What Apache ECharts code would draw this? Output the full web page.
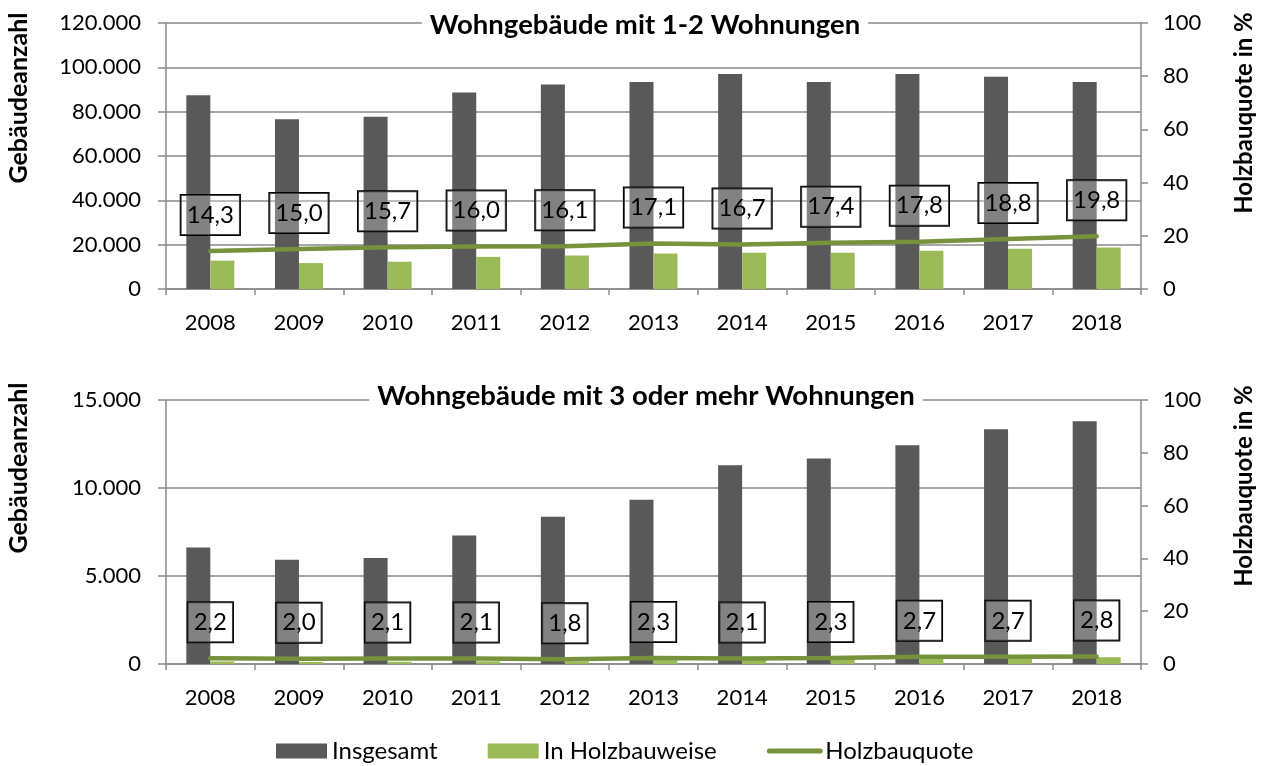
<!DOCTYPE html>
<html>
<head>
<meta charset="utf-8">
<script src="https://cdn.jsdelivr.net/npm/echarts@6/dist/echarts.min.js"></script>
<style>
html,body{margin:0;padding:0;background:#fff;}
#main{width:1264px;height:766px;}
</style>
</head>
<body>
<div id="main"></div>
<script>
const years = ['2008','2009','2010','2011','2012','2013','2014','2015','2016','2017','2018'];
const total1 = [87400, 76600, 77700, 88600, 92200, 93400, 97000, 93400, 97000, 95800, 93400];
const wood1 = [12800, 11700, 12300, 14500, 15100, 16000, 16400, 16400, 17300, 18200, 18700];
const quota1 = [14.3, 15.0, 15.7, 16.0, 16.1, 17.1, 16.7, 17.4, 17.8, 18.8, 19.8];
const total2 = [6620, 5920, 6020, 7300, 8360, 9330, 11290, 11670, 12430, 13340, 13790];
const wood2 = [146, 118, 126, 153, 150, 214, 237, 268, 336, 360, 386];
const quota2 = [2.2, 2.0, 2.1, 2.1, 1.8, 2.3, 2.1, 2.3, 2.7, 2.7, 2.8];
const title1 = 'Wohngebäude mit 1-2 Wohnungen';
const title2 = 'Wohngebäude mit 3 oder mehr Wohnungen';
const leftName = 'Gebäudeanzahl';
const rightName = 'Holzbauquote in %';
const names = ['Insgesamt', 'In Holzbauweise', 'Holzbauquote'];

const FONT = 'Lato';
const AX = '#8a8a8a';
const fmtDE = v => String(v).replace(/\B(?=(\d{3})+(?!\d))/g, '.');
const fmtDec = p => p.value.toFixed(1).replace('.', ',');

function xAxis(grid) {
  return {
    type: 'category', gridIndex: grid, data: years,
    axisLine: {lineStyle: {color: AX, width: 1.5}},
    axisTick: {show: true, length: 6, lineStyle: {color: AX, width: 1.5}},
    axisLabel: {color: '#000', fontFamily: FONT, fontSize: 22, margin: 23}
  };
}
function leftAxis(grid, max, interval) {
  return {
    type: 'value', gridIndex: grid, min: 0, max: max, interval: interval,
    axisLine: {show: true, lineStyle: {color: AX, width: 1.5}},
    axisTick: {show: true, length: 8, lineStyle: {color: AX, width: 1.5}},
    splitLine: {show: true, lineStyle: {color: AX, width: 1.5}},
    axisLabel: {color: '#000', fontFamily: FONT, fontSize: 22, margin: 25, formatter: fmtDE}
  };
}
function rightAxis(grid) {
  return {
    type: 'value', gridIndex: grid, position: 'right', min: 0, max: 100, interval: 20,
    axisLine: {show: true, lineStyle: {color: AX, width: 1.5}},
    axisTick: {show: true, length: 7, lineStyle: {color: AX, width: 1.5}},
    splitLine: {show: false},
    axisLabel: {color: '#000', fontFamily: FONT, fontSize: 22, margin: 22}
  };
}
function bars(name, data, xi, yi, color) {
  return {name: name, type: 'bar', xAxisIndex: xi, yAxisIndex: yi, data: data,
    barWidth: 24, barGap: '0%', itemStyle: {color: color}};
}
function line(data, xi, yi) {
  return {
    name: names[2], type: 'line', xAxisIndex: xi, yAxisIndex: yi, data: data,
    showSymbol: true, symbol: 'circle', symbolSize: 2, z: 5,
    lineStyle: {color: '#76923C', width: 4.5, cap: 'round'},
    itemStyle: {color: '#76923C'},
    label: {
      show: true, position: 'top', distance: 15, formatter: fmtDec,
      color: '#000', fontFamily: FONT, fontSize: 24, lineHeight: 26,
      backgroundColor: 'rgba(255,255,255,0.25)', borderColor: '#000', borderWidth: 1,
      padding: [7, 6, 7, 6]
    }
  };
}
function vtext(text, x, y, size) {
  return {type: 'text', x: x, y: y, rotation: Math.PI / 2,
    style: {text: text, font: 'bold ' + size + 'px ' + FONT, fill: '#000', align: 'center', verticalAlign: 'middle'}};
}

const chart = echarts.init(document.getElementById('main'));
chart.setOption({
  animation: false,
  backgroundColor: '#fff',
  title: [
    {text: title1, left: 637, top: 11, textAlign: 'center', backgroundColor: '#fff', padding: [0, 8],
      textStyle: {fontFamily: FONT, fontSize: 27.5, fontWeight: 'bold', color: '#000'}},
    {text: title2, left: 638, top: 382, textAlign: 'center', backgroundColor: '#fff', padding: [0, 8],
      textStyle: {fontFamily: FONT, fontSize: 27.5, fontWeight: 'bold', color: '#000'}}
  ],
  grid: [
    {left: 166, right: 123, top: 23, height: 266},
    {left: 166, right: 123, top: 400, height: 264}
  ],
  xAxis: [xAxis(0), xAxis(1)],
  yAxis: [leftAxis(0, 120000, 20000), rightAxis(0), leftAxis(1, 15000, 5000), rightAxis(1)],
  legend: {
    top: 734, left: 271, itemWidth: 51, itemHeight: 15, itemGap: 50,
    textStyle: {fontFamily: FONT, fontSize: 24, color: '#000'},
    data: [
      {name: names[0], icon: 'rect'},
      {name: names[1], icon: 'rect'},
      {name: names[2], itemStyle: {opacity: 0}, lineStyle: {width: 5, cap: 'round'}}
    ]
  },
  graphic: [
    vtext(leftName, 19, 98, 25), vtext(leftName, 19, 468, 25),
    vtext(rightName, 1244, 113, 24), vtext(rightName, 1244, 486, 24)
  ],
  series: [
    bars(names[0], total1, 0, 0, '#595959'),
    bars(names[1], wood1, 0, 0, '#9BBB59'),
    line(quota1, 0, 1),
    bars(names[0], total2, 1, 2, '#595959'),
    bars(names[1], wood2, 1, 2, '#9BBB59'),
    line(quota2, 1, 3)
  ]
});
</script>
</body>
</html>
